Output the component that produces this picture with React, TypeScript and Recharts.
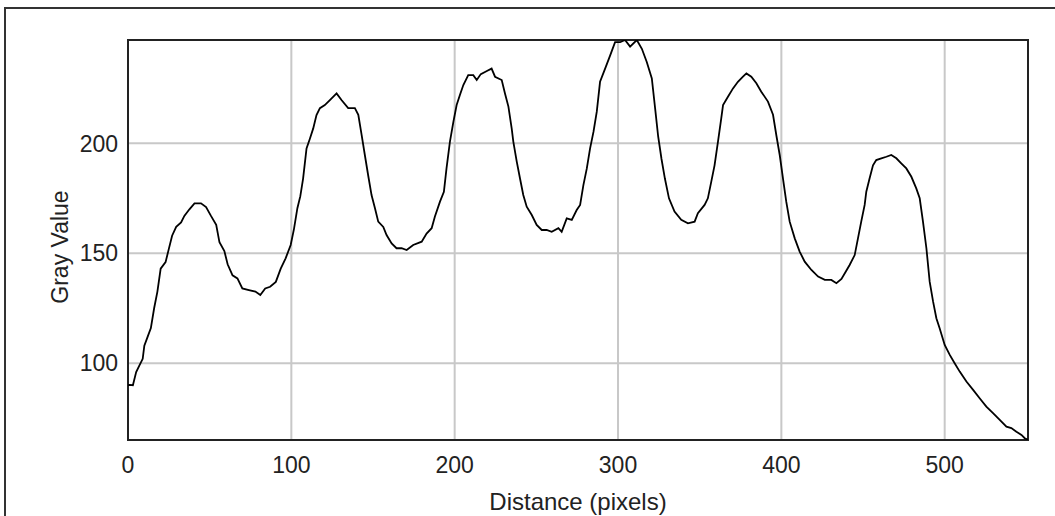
import React from 'react';
import {
  LineChart,
  Line,
  XAxis,
  YAxis,
  CartesianGrid,
  ReferenceArea,
  Label,
} from 'recharts';

// profile readings (distance in pixels -> gray value)
const distance: number[] = [
  0, 1, 3, 5, 7, 9, 10, 12, 14, 16, 18, 20, 23, 25, 27, 29.5, 32.5, 34.5, 37.6, 40.7,
  44.7, 47.8, 50.8, 54, 56, 59, 61, 64, 67, 70, 74, 78, 81, 84, 87, 90.5, 93.5, 96.5, 99.6, 101.6,
  103.7,
  105.5, 107.2, 109.3, 111.3, 113.4, 115.4, 117.5, 120.5, 123.6, 127.7, 130.7, 134.8, 138.9, 141, 143, 145,
  147, 149.1, 151.2, 153.2, 156.3, 158.3, 161.4, 164.4, 167.5, 170.6, 174.6, 179.8, 182.8, 185.9, 187.9,
  191, 193.4, 195, 197.1, 199.2, 201.2, 203.2, 205.3, 208.3, 211.4,
  213.5, 216, 220, 222.6, 224.7, 228.8, 230.8, 232.9, 234.9, 235.9, 238, 240, 242, 244.1, 247.2, 250.2,
  253.3, 256.3, 259.4, 263.5, 265.5, 268.6, 271.7, 274.7, 276.8, 278.8, 280.9, 282.9, 285, 287, 289,
  292.1, 295.2, 298.2, 301.3, 304.3, 307.4, 311.5, 314.6, 317.6, 320.7,
  322.7, 324.6, 326.6, 328.7, 331.2, 334.6, 338.7, 342.8, 346.9, 348.9, 353, 355, 357.1, 359.1, 361.2,
  363.2, 364.3, 367.3, 370.4, 373.4, 376.5, 378.6, 381.6, 384.7, 387.7, 391.8, 394.9, 396.9, 399, 401,
  403, 405.1, 408.2, 411.2, 414.3, 418.4, 422.5, 426.6, 430.6, 433.7,
  436.8, 439.3, 441.8, 444.9, 446.9, 448.9, 451, 452, 454, 456.1, 458.1, 461.2, 464.3, 467.3, 470.4,
  473.4, 476.5, 479.6, 482.6, 484.7, 486.7, 488.8, 490.8, 492.9, 494.9, 496.9, 500, 503.1, 506.1, 509.2,
  513.3, 517.4, 521.4, 525.5, 529.6, 533.7, 537.8, 540.8, 543.9, 547, 549, 551,
];

const grayValue: number[] = [
  90, 90.2, 90, 96, 99, 102, 108, 112, 116, 125, 132.6, 143, 146, 152, 158, 162, 164, 167, 170, 172.7,
  172.7, 171, 167, 163, 155, 151, 145, 140, 138.6, 134, 133.3, 132.6, 131, 134, 134.8, 137, 143, 147.7, 153.8, 161,
  170.5,
  176, 184, 197.7, 202, 206.8, 212.9, 216, 217.4, 219.7, 222.7, 219.7, 216, 216, 213, 204, 194.7,
  185.6, 176.5, 170.5, 164.4, 162, 158.3, 154.5, 152.3, 152.3, 151.5, 153.8, 155.3, 159, 161.4, 166.7,
  173.5, 178, 188.6, 200.8, 209.8, 217.4, 222, 226.5, 231, 231,
  228.8, 231.5, 233, 234, 230.3, 228.8, 222.7, 216.7, 206.8, 200.8, 191.7, 184, 176.5, 171.2, 167.4, 162.9,
  160.6, 160.6, 159.8, 161.4, 159.8, 165.9, 165.2, 169.7, 172, 181, 188.6, 197.7, 205.3, 214.4, 228,
  234, 240, 246, 246, 247, 244, 247, 243, 237, 229.5,
  216, 203, 193, 184, 175, 169, 165.2, 163.6, 164.4, 168.2, 172, 175, 182.6, 190, 200.8,
  211.4, 217.4, 221.2, 225, 228, 230.3, 231.8, 230.3, 227.3, 223.5, 219, 213, 203.8, 194.7, 184,
  173.5, 164.4, 156.8, 150.8, 146.2, 142.4, 139.4, 137.9, 137.9, 136.4,
  138.3, 141.5, 144.7, 149.2, 156.8, 164.4, 172, 178, 184, 190, 192.4, 193.2, 193.9, 194.7, 193.2,
  190.9, 188.6, 184.8, 179.5, 175, 164.4, 152.3, 137.1, 128, 120.5, 115.9, 108.3, 103.8, 100, 96.2,
  91.7, 87.9, 84.1, 80.3, 77.3, 74.2, 71.2, 70.5, 68.9, 67.4, 65.9, 65.2,
];

const xTicks = [0, 100, 200, 300, 400, 500];
const yTicks = [100, 150, 200];
const xDomain: [number, number] = [0, 551];
const yDomain: [number, number] = [65.1, 247];

const data = distance.map((d, i) => ({ distance: d, gray: grayValue[i] }));

const FONT = '"Liberation Sans", Arial, sans-serif';
const TEXT = '#222';

const YTitle = (props: any) => {
  const vb = props.viewBox || { x: 0, y: 0, width: 0, height: 0 };
  const cx = vb.x + vb.width - 60;
  const cy = vb.y + vb.height / 2 + 7;
  return (
    <text
      x={cx}
      y={cy}
      transform={`rotate(-90, ${cx}, ${cy})`}
      textAnchor="middle"
      fontSize={23}
      fontFamily={FONT}
      fill={TEXT}
    >
      Gray Value
    </text>
  );
};

export default function App() {
  return (
    <div style={{ position: 'absolute', left: 0, top: 0, width: 1055, height: 516, background: '#fff', overflow: 'hidden' }}>
      {/* window frame */}
      <div
        style={{
          position: 'absolute',
          left: 4,
          top: 7,
          width: 1060,
          height: 520,
          borderTop: '2px solid #333',
          borderLeft: '2px solid #333',
        }}
      />
      <div style={{ position: 'absolute', left: 0, top: 0 }}>
        <LineChart width={1055} height={516} data={data} margin={{ top: 40, right: 27, left: 8, bottom: 16 }}>
          <CartesianGrid stroke="#c8c8c8" strokeWidth={2} />
          <XAxis
            dataKey="distance"
            type="number"
            domain={xDomain}
            ticks={xTicks}
            allowDataOverflow
            height={60}
            tickLine={false}
            tickSize={0}
            tickMargin={17}
            axisLine={false}
            tick={{ fontSize: 23, fontFamily: FONT, fill: TEXT }}
          >
            <Label
              value="Distance (pixels)"
              position="insideBottom"
              offset={-10}
              style={{ fontSize: 24, fontFamily: FONT, fill: TEXT }}
            />
          </XAxis>
          <YAxis
            type="number"
            domain={yDomain}
            ticks={yTicks}
            allowDataOverflow
            width={120}
            tickLine={false}
            tickSize={0}
            tickMargin={10}
            axisLine={false}
            tick={{ fontSize: 23, fontFamily: FONT, fill: TEXT }}
          >
            <Label content={<YTitle />} />
          </YAxis>
          <Line
            type="linear"
            dataKey="gray"
            stroke="#000"
            strokeWidth={1.8}
            dot={false}
            isAnimationActive={false}
          />
          <ReferenceArea
            x1={xDomain[0]}
            x2={xDomain[1]}
            y1={yDomain[0]}
            y2={yDomain[1]}
            fill="none"
            fillOpacity={0}
            stroke="#222"
            strokeWidth={2}
            ifOverflow="visible"
          />
        </LineChart>
      </div>
    </div>
  );
}
